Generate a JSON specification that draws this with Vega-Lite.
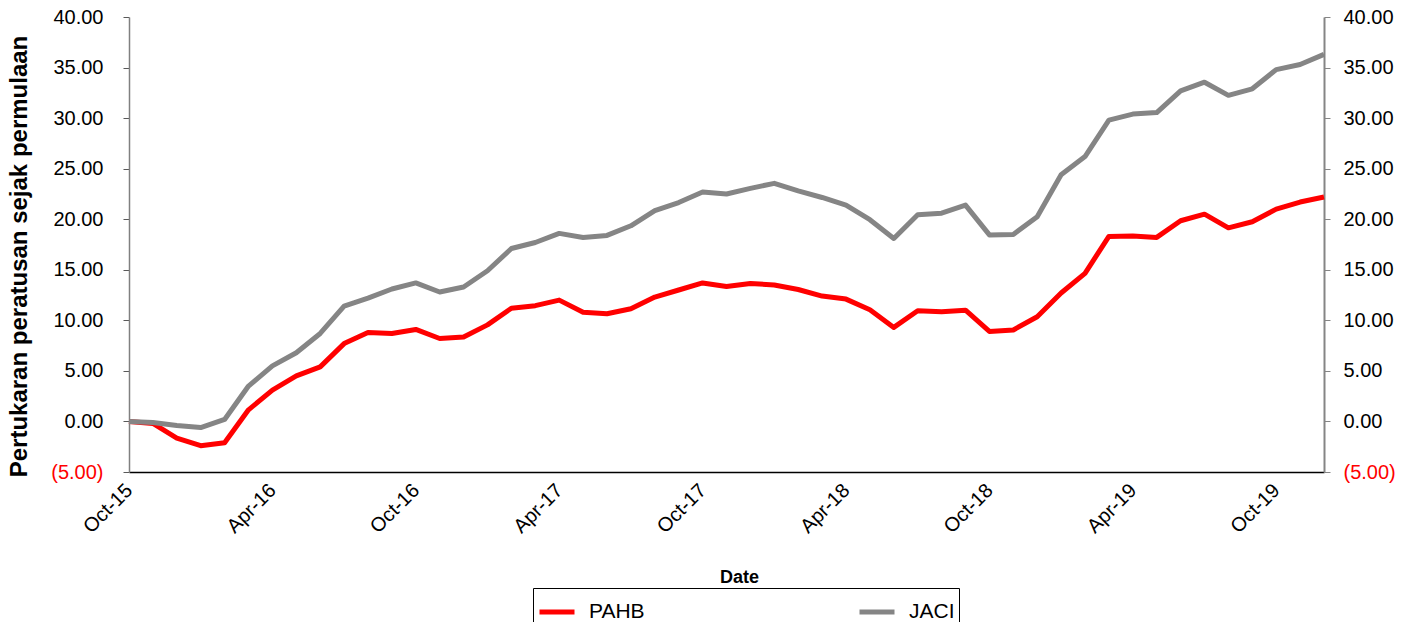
{
  "$schema": "https://vega.github.io/schema/vega-lite/v6.json",
  "autosize": {"type": "none"},
  "padding": {"left": 129, "top": 17, "right": 89, "bottom": 150},
  "width": 1195,
  "height": 455,
  "config": {
    "font": "Liberation Sans",
    "view": {"stroke": null},
    "axis": {"grid": false, "labelFont": "Liberation Sans", "titleFont": "Liberation Sans"}
  },
  "data": {"values": [
    {"m":"Oct-15","PAHB":0,"JACI":0},
    {"m":"Nov-15","PAHB":-0.2,"JACI":-0.1},
    {"m":"Dec-15","PAHB":-1.65,"JACI":-0.4},
    {"m":"Jan-16","PAHB":-2.4,"JACI":-0.6},
    {"m":"Feb-16","PAHB":-2.1,"JACI":0.2},
    {"m":"Mar-16","PAHB":1.15,"JACI":3.5},
    {"m":"Apr-16","PAHB":3.1,"JACI":5.5},
    {"m":"May-16","PAHB":4.5,"JACI":6.8},
    {"m":"Jun-16","PAHB":5.4,"JACI":8.7},
    {"m":"Jul-16","PAHB":7.7,"JACI":11.4},
    {"m":"Aug-16","PAHB":8.8,"JACI":12.2},
    {"m":"Sep-16","PAHB":8.7,"JACI":13.1},
    {"m":"Oct-16","PAHB":9.1,"JACI":13.7},
    {"m":"Nov-16","PAHB":8.2,"JACI":12.8},
    {"m":"Dec-16","PAHB":8.35,"JACI":13.3},
    {"m":"Jan-17","PAHB":9.55,"JACI":14.9},
    {"m":"Feb-17","PAHB":11.2,"JACI":17.1},
    {"m":"Mar-17","PAHB":11.45,"JACI":17.7},
    {"m":"Apr-17","PAHB":12.0,"JACI":18.6},
    {"m":"May-17","PAHB":10.8,"JACI":18.2},
    {"m":"Jun-17","PAHB":10.65,"JACI":18.4},
    {"m":"Jul-17","PAHB":11.15,"JACI":19.35},
    {"m":"Aug-17","PAHB":12.3,"JACI":20.85},
    {"m":"Sep-17","PAHB":13.0,"JACI":21.65},
    {"m":"Oct-17","PAHB":13.7,"JACI":22.7},
    {"m":"Nov-17","PAHB":13.35,"JACI":22.5},
    {"m":"Dec-17","PAHB":13.65,"JACI":23.05},
    {"m":"Jan-18","PAHB":13.5,"JACI":23.55},
    {"m":"Feb-18","PAHB":13.05,"JACI":22.8},
    {"m":"Mar-18","PAHB":12.4,"JACI":22.15},
    {"m":"Apr-18","PAHB":12.1,"JACI":21.4},
    {"m":"May-18","PAHB":11.05,"JACI":19.95},
    {"m":"Jun-18","PAHB":9.3,"JACI":18.1},
    {"m":"Jul-18","PAHB":10.95,"JACI":20.45},
    {"m":"Aug-18","PAHB":10.85,"JACI":20.6},
    {"m":"Sep-18","PAHB":11.0,"JACI":21.4},
    {"m":"Oct-18","PAHB":8.9,"JACI":18.45},
    {"m":"Nov-18","PAHB":9.05,"JACI":18.5},
    {"m":"Dec-18","PAHB":10.35,"JACI":20.25},
    {"m":"Jan-19","PAHB":12.7,"JACI":24.4},
    {"m":"Feb-19","PAHB":14.65,"JACI":26.2},
    {"m":"Mar-19","PAHB":18.3,"JACI":29.8},
    {"m":"Apr-19","PAHB":18.35,"JACI":30.4},
    {"m":"May-19","PAHB":18.2,"JACI":30.55},
    {"m":"Jun-19","PAHB":19.85,"JACI":32.7},
    {"m":"Jul-19","PAHB":20.5,"JACI":33.55},
    {"m":"Aug-19","PAHB":19.15,"JACI":32.25},
    {"m":"Sep-19","PAHB":19.75,"JACI":32.9},
    {"m":"Oct-19","PAHB":21.0,"JACI":34.8},
    {"m":"Nov-19","PAHB":21.7,"JACI":35.3},
    {"m":"Dec-19","PAHB":22.2,"JACI":36.3}
  ]},
  "encoding": {
    "x": {
      "field": "m", "type": "ordinal", "sort": null,
      "scale": {"type": "point", "padding": 0},
      "axis": {
        "title": "Date",
        "titleFontSize": 18, "titleFontWeight": "bold", "titleColor": "black", "titlePadding": 32, "titleX": 610,
        "values": ["Oct-15","Apr-16","Oct-16","Apr-17","Oct-17","Apr-18","Oct-18","Apr-19","Oct-19"],
        "labelAngle": -45, "labelAlign": "right", "labelBaseline": "middle",
        "labelFontSize": 20, "labelColor": "black", "labelPadding": 15,
        "ticks": false, "domainColor": "black", "domainWidth": 1.5
      }
    }
  },
  "layer": [
    {
      "mark": {"type": "line", "strokeWidth": 5, "strokeJoin": "round"},
      "encoding": {
        "y": {
          "field": "PAHB", "type": "quantitative",
          "scale": {"domain": [-5, 40], "nice": false, "zero": false},
          "axis": {
            "orient": "left",
            "title": "Pertukaran peratusan sejak permulaan",
            "titleFontSize": 24, "titleFontWeight": "bold", "titleColor": "black", "titlePadding": 19, "titleY": 239,
            "values": [-5, 0, 5, 10, 15, 20, 25, 30, 35, 40],
            "labelExpr": "datum.value < 0 ? '(' + format(-datum.value, '.2f') + ')' : format(datum.value, '.2f')",
            "labelFontSize": 20,
            "labelColor": {"condition": {"test": "datum.value < 0", "value": "#ff0000"}, "value": "black"},
            "labelPadding": 20, "tickSize": 6, "tickColor": "#595959", "domainColor": "#808080", "domainWidth": 1.5
          }
        },
        "color": {
          "datum": "PAHB",
          "scale": {"domain": ["PAHB", "JACI"], "range": ["#ff0000", "#858585"]},
          "legend": {
            "title": null, "orient": "none", "direction": "horizontal",
            "legendX": 404, "legendY": 571,
            "strokeColor": "black", "padding": 4,
            "symbolType": "stroke", "symbolStrokeWidth": 5, "symbolSize": 1225,
            "labelFontSize": 21, "labelColor": "black", "labelOffset": 12,
            "columnPadding": 204
          }
        }
      }
    },
    {
      "mark": {"type": "line", "strokeWidth": 5, "strokeJoin": "round"},
      "encoding": {
        "y": {
          "field": "JACI", "type": "quantitative",
          "axis": {
            "orient": "right",
            "title": null,
            "values": [-5, 0, 5, 10, 15, 20, 25, 30, 35, 40],
            "labelExpr": "datum.value < 0 ? '(' + format(-datum.value, '.2f') + ')' : format(datum.value, '.2f')",
            "labelFontSize": 20,
            "labelColor": {"condition": {"test": "datum.value < 0", "value": "#ff0000"}, "value": "black"},
            "labelPadding": 13, "tickSize": 6, "tickColor": "#858585", "domainColor": "#858585", "domainWidth": 2
          }
        },
        "color": {"datum": "JACI"}
      }
    }
  ],
  "resolve": {"axis": {"y": "independent"}}
}
